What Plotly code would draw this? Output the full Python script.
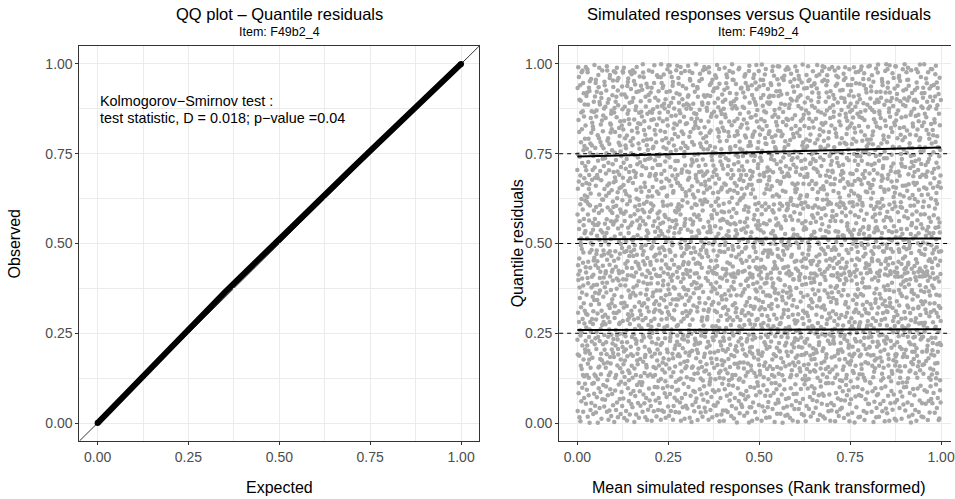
import numpy as np
import plotly.graph_objects as go

# ---------------- data ----------------
# QQ plot of quantile residuals
QQ_EXPECTED = [0.00, 0.05, 0.10, 0.15, 0.20, 0.25, 0.30, 0.35, 0.40, 0.45, 0.50,
               0.55, 0.60, 0.65, 0.70, 0.75, 0.80, 0.85, 0.90, 0.95, 1.00]
QQ_OBSERVED = [0.000, 0.053, 0.104, 0.157, 0.209, 0.262, 0.312, 0.364, 0.414, 0.463, 0.513,
               0.562, 0.611, 0.660, 0.709, 0.758, 0.806, 0.856, 0.905, 0.953, 1.000]

KS_LINE1 = "Kolmogorov\u2212Smirnov test :"
KS_LINE2 = "test statistic, D = 0.018; p\u2212value =0.04"

# Quantile regression lines (0.25, 0.50, 0.75) at x = 0 and x = 1
QR_X = [0.0, 1.0]
QR_25 = [0.259, 0.261]
QR_50 = [0.512, 0.514]
QR_75 = [0.742, 0.767]
QR_LEVELS = [0.25, 0.50, 0.75]

# Quantile residuals, in order of rank of the mean simulated response.
# Coarse level: one character per residual (90 levels over 0..1);
# fine level: one digit per residual (10 sub-levels).
RES_ALPHABET = "0123456789ABCDEFGHIJKLMNOPQRSTUVWXYZabcdefghijklmnopqrstuvwxyz!#$%&()*+,-./:;<=>?@[]^_{|}~"
RES_CODES = [
    "#Kq]3Hw(Rd~Zb:7Ay{Pm-Gf@1Xo&Vc^Ns!0Lj?Ei+Tk<5Mu|Dh.Wa%8Jx}Qr=Ce_2Yg)Fn[Up;6Bz*Ol>Sv,9It$Hm/Kd~4Rb#Ny",
    "@Wt)8Ck[Ju}Ra|1Eq>Ze%Is,6Bw^Lo!Fx]0Ng_Hs(Pc+3Dv;Tj{Ml-5Xh=Ka*Qy:9Gi#Vo/Om.2Sb&Ye?Ar<7Uf~Cn$Jp@4Wz)Ld",
    "_Bx{2Ps;Ig=Mh]6Yk!Ue(Rn-0Az%Lc|Do^8Wq,Tv~Ej?3Ka>Xs#Gb+7Nm/Ci[Hy@1Sf*Fr:Ou}5Zl&Qd.Jt<9Vh)Pa$Eg=4Mw_Ik",
    "^Yn&5Rj>Ob;Dc!9Ku]Wl(Hp~2Ze}Ax+Fs?6Qm,Lg%0Ti@Bv#Ny*3Pd{Sh|Ga:8Cr-Ek/Xo<1Mf=Uw.Ib)7Vq[Jc$Zt_4Hn^Ls!Ry",
    "}Ge<0Wo=Qk(Tz-8Bh|Jy?Nd%3Cs@Ro;Xa~5Lu_Ep#Kv]1Im>Hf{Zc+9Sj.Ob!Mw,6Pg*Dr:Yl)2Fi$Aq&Ux[7Vn/Kh^4Ct=Jb}Pz",
    "|Ma.6Ex%Sq~Hk:1Ug[Bo>Fw,9Yd*Lr#Ij)3Zv@Nh&Tc-0Ks^Ge<Pb_8Rm{Dy=Xl;5Ai!Qf/Cu?2Ot}Vz$Wp+7Jn]Hg(4Sa|Ek.Lc",
    "?Ro*3Bj}Gy,Wf@8Xk#Ma_Ph;0Dq|Ti(Ns^6Lz=Ve!Cb>2Jw[Ku~Yg.9Fo$Hl-Er&5Qd:Id+Zt]1Om<Us)Ac{7Sn%Gp/4Wx?Bk^Rh",
    "=Nv!9Ki;Tb]Ar$2Pg~Mo|Fe+7Zh{Ls.Uq:4Cy(Jd%Gx-1Hn@Qi>Wa#6Ek_Dt*Xm,0Sf<Yc^Bu)3Vl&Oj[Rp}8Iw/Lz?5Nb=Hq!Ce",
    "&Ld[4Yt,Ph:Oa^0Gr<Ku}Mi#Vx)7Bn=Ws*Ej;2Rc_Tf~Qo.9Hz%Cl@Sk-5Dg!Ub+Jy(1Xe/Nw|Fa>8Iq$Zm{3Lp?Av]6Ok&Eh;Tr",
    "<Sg(5Ha$Xn.Jm{0Bc~Vy!Pw_Re>3Kl+Di]Ft:8Yo^Zs*Gb|2Mx?Uh#Nq=7Ck-Lf%Ap@1Wd,Ej)Tz[6Qu;Iv&Os}9Hc/Rb<4Ym~Xk",
    "+Fp>1Ry&Dh~Wc]7Kn|Lg$Ta(3Ms?Bx;Nj{Ze,9Qi!Ho^Ub_0Gv@Cw.4Yk*Pd=Sl:6Im-Xr#Ef%2Jz<Ao)Vq}8Tn[Ob/5Ky~Ls!Ga",
    "%Oy,8Ud{Hs_Ar?2Wl=Jc[Gi:5Nx<Eq~Bm)0Zh|Pk!Cs.6Vf#Lw@Rt^3Id+Mb-Ya>9Qe;Kg&Fn(1Xo}Tj$7Dp*Hv/4Su]Wc=Eh?Bi",
    ":Qb#3Ft)Lm@Ky~Xd[9Ue>Ni!Gz,Rw}1Oa{Hc_Vp-6Sj=Bg$Ml;0Yr&Dx+Ik|4Pn%Ev^Ao?8Tf.Wh*Zq<2Cu(Jb]7Ls:Ng/5Kd!Xz",
    "~Gk<6Zs%Ib;Tp^Ry]0Ce@Hw(Jm.Dq$4Xa!Vl_Ug=8Nd|Ko+Ft-2Bh:Yx*Lj#7Pc{Ef?Qs>1Mr&Ai}Wz,5On)Sv[9Gi~Ct/3Hu@Ly",
    "!Ux$2Ma}Dk,Nh+Eg>7Iw=Pt#Ql[5Zb)Kf?Ro:0Vj~Sy|Cd-9Jn^Ax*Hm@3Bl.Ye;Gs_6Wq&Tc<Fp%1Oz{Li(8Xv]Ub$Kh!4Nr=Db",
    "]Hj?7Sc*Xn|Ay#4Lt(Oe{Zk;Gb!1Rq~Wd^Ef.5Mu@Iv>Pl,8Ts-Cz}Nh_0Bi+Ya&Ko%6Dm=Qg:Jw)2Vr<Fx$Ua[9Ep/Ic?3Sk#Lo",
    "(Bs=0Kq.Fy]Mg~8Wi<Ta@Dj;Hx&3Nc_Ub|Rl+6Zo{Pe^Cv!2Io$Sh-Gm%9Xk,Ar:Lt}5Qd[Ew*Jn)7Vb?Oz>1Hf#Yp/4Bu~Ma=Ci",
    "{Td|9Ph!Lr_Zb?1Xw$Go:Ey,6Ua>Ik*Cn(Rm^3Jf@Sq[Wx=0Hl.Qs;Ev-8Nb&Dc%Ki}5Ag#Mj~Oy+2Bt<Fo)Pz/7Ye]Lu!4Vm^Rw",
    "/Jg$4Ne)Sb>Iu&Wk[7Ay#Fm;Dr=1Ov{Xc@Ho-Qh|5Ts_Bl,Zi!8Ge(Kw:Up%2Ln.Ca^Ej]6Yq*Rs<Mx}0Pd~Vf?3Hb+Iz#9Ok;Ta",
    "*Ev(3Dl;Rx^Jz[0Hb,Ka!Nw-5Ye{Mi@Sp%Gh|8Cq.Tj&Ou?2Ls_Xg<Vd>6Bn~Pk]Wf:1Zr=Ac)Qm#9Io$Fy+Ht}4Ub/Ej^7Sn!Dc",
    "-Cy&7Xm{Lb@Oe;Ta%0Gq~Rs)Nj.4Hi>Ug_Wd[9Pl^Bo!Ez=2Kv:Yh|Sc,6Ft+Jr}Mk<1Vw*Zn/Ia#8Dx?Qb$3Lf]Oh(5Ag-Ws@Ty",
    ">Pz.1Jo#Ew[Vh?6Ni_Mb&Kl^Sa(9Tx,Cg}Fr;3Yu~Dm!Zc+Oq@7Hs|Rj%Be=0Wk<Xd*Li-4Ak)Gp:Un]8Qv$Ic/2Ey{Nh~Tf.5Mo",
    ";Wa@5Cf^Ku~Ir=9Ob]Ht#Zx.2Pn%Dy?Gm[Lj,7Qe!Vs{Bk-0Uw:Xh<Fc&3Ri_Sz)Ag|8Mp*Yd>Jl+1Ev}No$6Ti/Kb;Hr!4Ws",
    "[Mh~2Lr!Gd:Ss*Qj}6Vc=Oz(Ek>Ya#1Ni+Bp_Xt@8Wu|Cf.Hb%4Dg?Jo;Ty&0Rk^Fm-Zs$7Ua,Il]Kq{3Pe)Ex<Lw~9Ov/Gc!5Nj",
    "$Xe?7Bw}Ts-Pl&Gy^0Kc@Ro>Fi|3Jh(Na{Zu,Dk.5Mq!Cb[Uv:8Ws%Le=Ht_2Ij#Yo*Qg~Ad;6Sr+Vx)Om<1Ef]Hz/9Kn?Ra&Bt",
    ")Ko#0Af=Ym,Hc|4Ru]Dv*Lz!Ws@8Qj~Ng_Es<Bh.3Tx;Pi{Ja+6Ck$Ge-Mo%1Vb?Zd^Fl(9Sy>Oq[Uw:5Xr}Ie&2Np/Ha#7Dl",
    "^Zl_8Gb>Ws+Ck(Mx%3Io;Ey#Rf{Ha]5Tu~Nd,Bq!0Pv=Lj?Xs[6Ji@Ke|Ug-Vc.2Yz&Am*Dw)9Op<Sh$Fb:4Qr}Mn_7Ik~Ct/1Tx",
    ".Ih%6Tw+Nr{Fa~Xb<1Sk)Lg:Zq?Dm!9Ge^Hy[Ou=Bv|4Pc_Ws#Ki*Ej,2Al@Vn-Rt}7Md&Cz>Jf;0Qo]Yx$Us(5Lb/3Gh%Wp~Ne",
    "#Dr!9Sp>Va[Kw;Lc=4Jx*Pi@Gf}Nz.0Bo(Xm^Eh-7Rj|Uq,Ts&2Yd_Cb%Oa?6Hk{Il~Wv)1Mg$Qe:Fs<8Zu+Ay]3Lt/Kc!5Ib@Ro",
    "=Vi,3Nq#Af(Hl]7Dz$Ot!Xs|Ek_1Yb@Lw+Mc?5Gj~Tr{Qa<Up;9Bd*Zh-Ce&6Rn:Ko.Fy^2Wm)Sg>Ix%8Jv[Pb}0Ht/4Ea=Ml!Nq",
    "?Ab]5Fw^Qh:Ze*Ol=2Gx{Jt!Di;Us,8Nk@Cm~Rv(Hb.0Py%Lq-Wd>6Ea|Sj_Ko+3Ti#Mc&Yf?Vs<9Bg)Xu$Iz}1Rp[Nl/7Oe;Ct",
    "_Gu@1Pm&Ky<Wb}Hr.6Ej~Dx%Qi;Zt+8Cs!Ta(Vn{Mf?3Jl^Bo|Lz:0Yh-Sk#Ac=Fg5Iw]Xe)Rd[2Nq*Ub,Ov>7Hk$Pi/4Ey~Lm",
    "+Rn{4Yd(Ik!Jc~Ax>Mw@9Tb,Gs^Ou]Lh$2Sf|Ze=Ex-7Kp*Qv.Bg_0Hy#Nr;Cl<5Wi%Fa?Dq)8Um:Vo&Pj}1Xs[3Gn/6Jb@Rt!Ke",
    "|Nm~7Zb*Se?Ji%1Ea=Lt<Wq(Oc.4Gr]Hx;Vd@Ak+8Py!Fl{Cu_2Mi^Tz#Rh$Bs-5Do,Yg&Kw>Iv)0Ub:Qn}9Xe[Jc/3Tp~Lf?Sh",
    "&Oi+2Lq}Rz^Ya_6Hd!Ew,Gm<Bk=0Xs~Vp[Tf;Uc?4Nb#Kh.Ao$8Iy(Dj@Zl-Cr|3Sg*Pe>Mx%Fu{7Wn)Qt:Jb]1Ov/5Ea~Hs!Gk",
    "~Sw:0Fm<Hc@Uy[5Kb,Ri^Dq!Na=9Pe#Lh{Xo|Tg*3Ez.Jv_Bk?7Ws-Ct(Ym%Qd;1Ia&Vr$6Ol+Ax}Gf>Mj]4Zu)Ni/8Hp@Rc~Yb",
    ",Ef$3Qk>Nx;Ic]9Zr|Vh(Am.Gw_Tb?5Lp~Bd{Se!Ox^1Yj@Kh*Cu+7Mi-Ra#Ds<Jl&0Pg}Fn=Wc%4Xo[Hq)2Uv:Ek/8Sz$Ly?Gb",
    "(Ws=6Jd!Hu]Lx@3Pa%Ck;Qf-Zm}0Ir_Ny?Ge^Bo.8Vt|Ej#Sb<Tl:2Fw&Oh+Ma*5Yc~Dz,Ri)9Kq{Xn$Ug>1Pv[Lc/4Ha!Em=Ts",
    "@Lj^1Cb)Ot:Ex~Wg[8Mq<Pa*Uh!Sd$4Yk{Fz;Rw.Hm_7Ic?Nb#Ji%0Zv|Kn=Ge-5Xs&Bp,Ql]2Tf>Va@Dy(9Ao}Ru/6Hi^Lk+Ce",
    "}Yc!4Ig.Kb?Pw-Dl(7Xq^Sh#Gz;Ua:2Nr@Ef|Lm+Ot~9Bk=Wv%Ri_3Cs,Ja>Fx]6Hd*Qp$Mn[0Tg<Zy&1Vo{Kl/8Ae)Sb!5Pw?Jh",
]
RES_FINE = [
    "4829017365 1829405736 9820495731 6280491735 3028471956 6721847305 1012847395 6018273495 8102847361 5602847391",
    "9157302846 6139582704 4182936057 1982047635 7390285461 2857093146 5092837461 3846201957 5029384716 0718364925",
    "2740691853 3720469185 2461093758 2901746382 0194753826 1094753826 6384019572 8503917264 1790562834 4928106537",
    "6093815274 4805129376 6204819375 7102948365 2857196340 9136480257 0462891735 5718203649 3206194875 8457201963",
    "1568204937 7259130846 5319204758 6620193847 0983457612 4712603985 2389014675 6540298137 9013764528 3278609154",
    "8305176294 0947218356 2613849570 7458093621 1390628475 5804729316 3261570948 9572186043 4086315729 6719430258",
    "5026937481 3684095127 7940263815 1528706493 6073184952 2419567830 8735029164 0591348726 7268915304 9340672518",
    "0791563842 5243871906 8357120649 4086952317 9512408736 3168257094 6420793581 1874306259 2953641078 7625089413",
    "3468290157 9130564728 0529718364 6742031985 2876154039 8095423671 4513890627 7301682945 6097213854 1258947360",
    "7153048629 2516807934 4982675103 8309146752 5641273890 0732918465 9285461307 3647029518 1408356279 5839170642",
    "2904817563 6371250948 1859037264 9427681035 0365914827 4718203596 8250369471 5196742038 3084157629 7632590184",
    "6517390428 0842617359 3795104682 2168539740 7930248516 1584976203 4026813795 8349051267 5271468930 9813726045",
    "1830652974 7495381062 6208947531 3562718409 8147065392 2690834157 5973126840 0418597326 9352640718 4086259173",
    "9274106835 3062958741 7513829604 0849367125 4285190376 6137482950 1692053487 5720614893 8406371259 2951830764",
    "4056893712 8123760495 2940581367 6371945820 1598207643 7304659218 3867142590 9615038427 0478296135 5729413086",
    "8642719053 1905384627 5268031974 7430596182 3081647295 9527810436 6149375208 2893456170 4706923851 0365182749",
    "3197568240 5780426319 0426973185 1953207864 6820493751 4369018527 8705132649 7041685392 2538709416 6214957803",
    "0528374196 9346152870 6819205437 4081739625 2765048193 1592863704 7903416582 3670295418 5147820369 8231694057",
    "7683051429 2459718036 3170649852 8516230974 9432875601 0867491325 5028713946 6394508172 1705362984 4912086537",
    "5340928617 6082531794 9753186402 2607493851 0129654738 3481207965 7816935024 4258079316 8964312570 1573846209",
    "2175693048 4691027583 8032745169 5369812407 7406381925 6923574810 0547128396 9184630257 3810956742 7295401638",
    "9861407325 0723859146 1457620983 6042937518 3518064279 5270198634 2693541780 8036724951 4129875306 1564293870",
    "6429135807 3158476290 7891302564 0273658149 8645913072 4019285736 9362710458 1507436829 5783092614 2830169547",
    "1047582936 7536240918 2618097345 9485162703 5067839421 8792403615 3154967280 6920381574 0461253798 4379512086",
    "8396204751 5904381627 4270519836 1829736054 2931407568 6458013297 7605248913 0173695842 9528164730 3640827159",
    "4713860592 2689513074 0356824917 7160495382 6204375819 9537126048 1849032765 3082657491 7615940328 5298371604",
    "0251937486 8342605179 6984217350 3597081624 1079586243 7213460895 5426791038 9740318562 2863054197 6130729845",
    "7580461293 1467932805 5109376248 8034215967 4726150839 0865294371 2397608145 4612873950 9051436782 3724189056",
    "3926175804 9815027436 2743698051 4652308179 7483901526 5314762908 6078142359 1298507634 8360927415 0549638271",
    "5168049327 4073651892 8531920746 0917846253 9652187340 2496375081 3710459628 7825013964 1237690485 6804329517",
    "2607893145 6721340958 3296085417 5438912670 0815263794 7140598236 4982367501 8359721046 6193405872 9076152384",
    "8934512076 0358796421 7415362890 2871054639 6349708152 1683249507 9026185743 3504876219 5728913460 4217063985",
    "1452706839 7809435216 0687219543 6193582704 3520947618 8935106427 2471830695 5846297103 9160425378 0382651974",
    "6075381924 3526197480 9142856307 8704623159 1867395042 4058712936 5739046281 0213589746 2695170834 7341968205",
    "9381624570 1940853762 4823710695 3156947208 5207418936 6389250471 0764193852 2598037614 7412865309 8630429157",
    "4726309518 8163924075 5360481729 9027356841 2934760185 0571893624 8146527093 6485201937 3859046271 1204758396",
    "0819457263 5294781630 2709134856 7462809315 8635091427 3917642508 6453178290 9107235684 4280613579 5398146702",
    "3564892017 9657032148 1038567492 0489215673 4091837265 7826405139 2718954360 1630498725 8971562043 6245370981",
    "7293518046 2416809357 6574921830 5810394762 9718264503 1342758690 3957601284 7829015436 0136487925 4057291368",
    "5807246931 0135678924 3941856207 1625037498 7460392851 6208147395 4381925076 2764830159 9502716483 8697413502",
]

AXIS_TICKS = [0.0, 0.25, 0.5, 0.75, 1.0]
AXIS_MINOR = [0.125, 0.375, 0.625, 0.875]

# ---------------- decode residuals ----------------
coarse = [c for c in "".join(RES_CODES) if c in RES_ALPHABET]
fine = [d for d in "".join(RES_FINE) if d.isdigit()]
n = min(len(coarse), len(fine))
L = len(RES_ALPHABET)
res_y = np.array([(RES_ALPHABET.index(coarse[i]) + (int(fine[i]) + 0.5) / 10.0) / L
                  for i in range(n)])
rank_x = np.arange(n) / (n - 1)   # rank-transformed mean simulated response

# ---------------- figure ----------------
W, H = 955, 499
FONT = "Liberation Sans, Arial, Helvetica, sans-serif"


def px(x):
    return x / W


def py(y):
    return 1 - y / H


fig = go.Figure()

# QQ plot
fig.add_trace(go.Scatter(x=QQ_EXPECTED, y=QQ_OBSERVED, mode="lines",
                         line=dict(color="black", width=6),
                         xaxis="x", yaxis="y", showlegend=False, hoverinfo="skip"))
fig.add_trace(go.Scatter(x=[QQ_EXPECTED[0], QQ_EXPECTED[-1]],
                         y=[QQ_OBSERVED[0], QQ_OBSERVED[-1]], mode="markers",
                         marker=dict(color="black", size=6),
                         xaxis="x", yaxis="y", showlegend=False, hoverinfo="skip"))

# residuals scatter
fig.add_trace(go.Scatter(x=rank_x, y=res_y, mode="markers",
                         marker=dict(color="#A8A8A8", size=4.5, line=dict(width=0)),
                         xaxis="x2", yaxis="y2", showlegend=False, hoverinfo="skip"))

# quantile regression lines
for qy in (QR_25, QR_50, QR_75):
    fig.add_trace(go.Scatter(x=QR_X, y=qy, mode="lines",
                             line=dict(color="black", width=2),
                             xaxis="x2", yaxis="y2", showlegend=False, hoverinfo="skip"))

shapes = []
# identity line in QQ plot
shapes.append(dict(type="line", xref="x", yref="y", x0=-0.05, y0=-0.05, x1=1.05, y1=1.05,
                   line=dict(color="black", width=0.8), layer="below"))
# dashed reference levels
for q in QR_LEVELS:
    shapes.append(dict(type="line", xref="x2 domain", yref="y2", x0=0, x1=1, y0=q, y1=q,
                       line=dict(color="black", width=1, dash="4px,4px")))

common_axis = dict(
    tickvals=AXIS_TICKS, tickformat=".2f", ticks="outside", ticklen=3,
    tickcolor="#333333", tickwidth=1,
    showline=True, linecolor="#333333", linewidth=1,
    showgrid=True, gridcolor="#EBEBEB", gridwidth=1, zeroline=False,
    tickfont=dict(family=FONT, size=14, color="#4D4D4D"),
    ticklabeloverflow="allow",
    minor=dict(tickvals=AXIS_MINOR, showgrid=True, gridcolor="#EBEBEB", gridwidth=0.5, ticks=""),
)

y_dom = [1 - 441 / H, 1 - 46 / H]

fig.update_layout(
    width=W, height=H,
    margin=dict(l=0, r=0, t=0, b=0),
    paper_bgcolor="white", plot_bgcolor="white",
    font=dict(family=FONT, color="black"),
    xaxis=dict(domain=[px(79.75), px(481.25)], range=[-0.05, 1.05], anchor="y",
               mirror=True, **common_axis),
    yaxis=dict(domain=y_dom, range=[-0.05, 1.05], anchor="x", mirror=True, **common_axis),
    xaxis2=dict(domain=[px(561.5), 1.0], range=[-0.05, 1.0273], anchor="y2",
                mirror=True, **common_axis),
    yaxis2=dict(domain=y_dom, range=[-0.05, 1.05], anchor="x2", mirror=False, **common_axis),
    shapes=shapes,
)

ann = []


def add_text(text, x, y, size, xanchor="center", angle=0, xref="paper", yref="paper"):
    ann.append(dict(text=text, x=x, y=y, xref=xref, yref=yref, showarrow=False,
                    xanchor=xanchor, yanchor="middle", textangle=angle,
                    font=dict(family=FONT, size=size, color="black")))


add_text("QQ plot \u2013 Quantile residuals", px(280.5), py(14), 16.5)
add_text("Item: F49b2_4", px(280.5), py(32), 12.5)
add_text("Simulated responses versus Quantile residuals", px(762), py(14), 16.5)
add_text("Item: F49b2_4", px(762), py(32), 12.5)
add_text("Expected", px(280.5), py(487), 16)
add_text("Mean simulated responses (Rank transformed)", px(762), py(487), 16)
add_text("Observed", px(15), py(243.5), 16, angle=-90)
add_text("Quantile residuals", px(520), py(243.5), 16, angle=-90)
# KS test text (left aligned at expected = 0)
ann.append(dict(text=KS_LINE1, x=QQ_EXPECTED[0], y=py(101), xref="x", yref="paper",
                showarrow=False, xanchor="left", yanchor="middle",
                font=dict(family=FONT, size=14.4, color="black")))
ann.append(dict(text=KS_LINE2, x=QQ_EXPECTED[0], y=py(118), xref="x", yref="paper",
                showarrow=False, xanchor="left", yanchor="middle",
                font=dict(family=FONT, size=14.4, color="black")))

fig.update_layout(annotations=ann)

fig.write_html("out.html")
